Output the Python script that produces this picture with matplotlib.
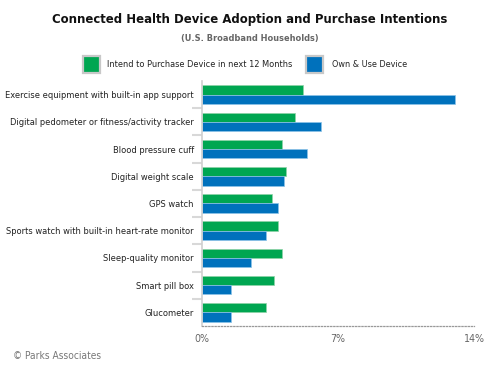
import matplotlib
matplotlib.use("Agg")
import matplotlib.pyplot as plt
import matplotlib.patches as patches
from matplotlib import font_manager
import numpy as np

# data (percent of US broadband households)
categories = [
    "Exercise equipment with built-in app support",
    "Digital pedometer or fitness/activity tracker",
    "Blood pressure cuff",
    "Digital weight scale",
    "GPS watch",
    "Sports watch with built-in heart-rate monitor",
    "Sleep-quality monitor",
    "Smart pill box",
    "Glucometer",
]
intend = [5.2, 4.8, 4.1, 4.3, 3.6, 3.9, 4.1, 3.7, 3.3]
own = [13.0, 6.1, 5.4, 4.2, 3.9, 3.3, 2.5, 1.5, 1.5]
xticks = [0, 7, 14]
series_names = ["Intend to Purchase Device in next 12 Months", "Own & Use Device"]

GREEN = "#00a651"
BLUE = "#0071bc"

# use a condensed face if the system has one
cond = [f for f in font_manager.fontManager.ttflist if "ondensed" in str(f.stretch) or "Narrow" in f.name or "Condensed" in f.name]
if cond:
    plt.rcParams["font.family"] = [cond[0].name, "DejaVu Sans"]
    if "ondensed" in str(cond[0].stretch):
        plt.rcParams["font.stretch"] = "condensed"
else:
    plt.rcParams["font.family"] = ["Liberation Sans", "DejaVu Sans"]

fig = plt.figure(figsize=(4.99, 3.74), dpi=100)
renderer = fig.canvas.get_renderer()


def fit(t, width_px):
    # shrink/grow font so the text is as wide as in the reference
    w = t.get_window_extent(renderer).width
    t.set_fontsize(t.get_fontsize() * width_px / w)
    return t.get_fontsize()


ax = fig.add_axes([202.3 / 499, 48 / 374, (474 - 202.3) / 499, (326 - 81) / 374])

y = np.arange(len(categories))
h = 0.34
ax.barh(y - h / 2, intend, height=h, color=GREEN, edgecolor="#8fd3a8", linewidth=0.5)
ax.barh(y + h / 2, own, height=h, color=BLUE, edgecolor="#8cc3e8", linewidth=0.5)

ax.set_xlim(0, 14)
ax.set_ylim(len(categories) - 0.5, -0.5)

# size category labels from the widest one
widths = []
for c in categories:
    probe = fig.text(0, 0, c, fontsize=9)
    widths.append(probe.get_window_extent(renderer).width)
    probe.remove()
lab_fs = 9 * 187 / max(widths)

ax.set_yticks(y)
ax.set_yticklabels(categories, fontsize=lab_fs, color="#222222")
ax.tick_params(axis="y", which="major", length=0, pad=6)
ax.set_yticks(np.arange(0.5, len(categories) - 1, 1), minor=True)
ax.tick_params(axis="y", which="minor", length=7, width=1.5, color="#d8d8d8")

probe = fig.text(0, 0, "14%", fontsize=9)
tick_fs = fit(probe, 21)
probe.remove()
ax.set_xticks(xticks)
ax.set_xticklabels(["%d%%" % t for t in xticks], fontsize=tick_fs, color="#666666")
ax.tick_params(axis="x", length=0, pad=6)

for s in ["top", "right"]:
    ax.spines[s].set_visible(False)
ax.spines["left"].set_color("#cfcfcf")
ax.spines["left"].set_linewidth(1.2)
ax.spines["bottom"].set_color("#999999")
ax.spines["bottom"].set_linewidth(0.9)
ax.spines["bottom"].set_linestyle((0, (1, 1.5)))

# titles
t = fig.text(0.5, 1 - 20 / 374, "Connected Health Device Adoption and Purchase Intentions",
             ha="center", va="center", fontsize=11.5, fontweight="bold", color="#111111")
fit(t, 398)
t = fig.text(0.5, 1 - 38 / 374, "(U.S. Broadband Households)",
             ha="center", va="center", fontsize=8.5, fontweight="bold", color="#666666")
fit(t, 137)

# legend drawn by hand
for x0, col, name, tx, tw in [(83, GREEN, series_names[0], 107, 185), (306, BLUE, series_names[1], 332, 75)]:
    fig.patches.append(patches.Rectangle((x0 / 499, 1 - 73 / 374), 17 / 499, 17 / 374,
                                         transform=fig.transFigure, facecolor=col,
                                         edgecolor="#c8c8c8", linewidth=1.6))
    t = fig.text(tx / 499, 1 - 64.5 / 374, name, ha="left", va="center", fontsize=8.5, color="#222222")
    fit(t, tw)

t = fig.text(13 / 499, 1 - 356 / 374, "\u00a9 Parks Associates", ha="left", va="center",
             fontsize=9, color="#777777")
fit(t, 88)

fig.savefig("out.png", dpi=100)
